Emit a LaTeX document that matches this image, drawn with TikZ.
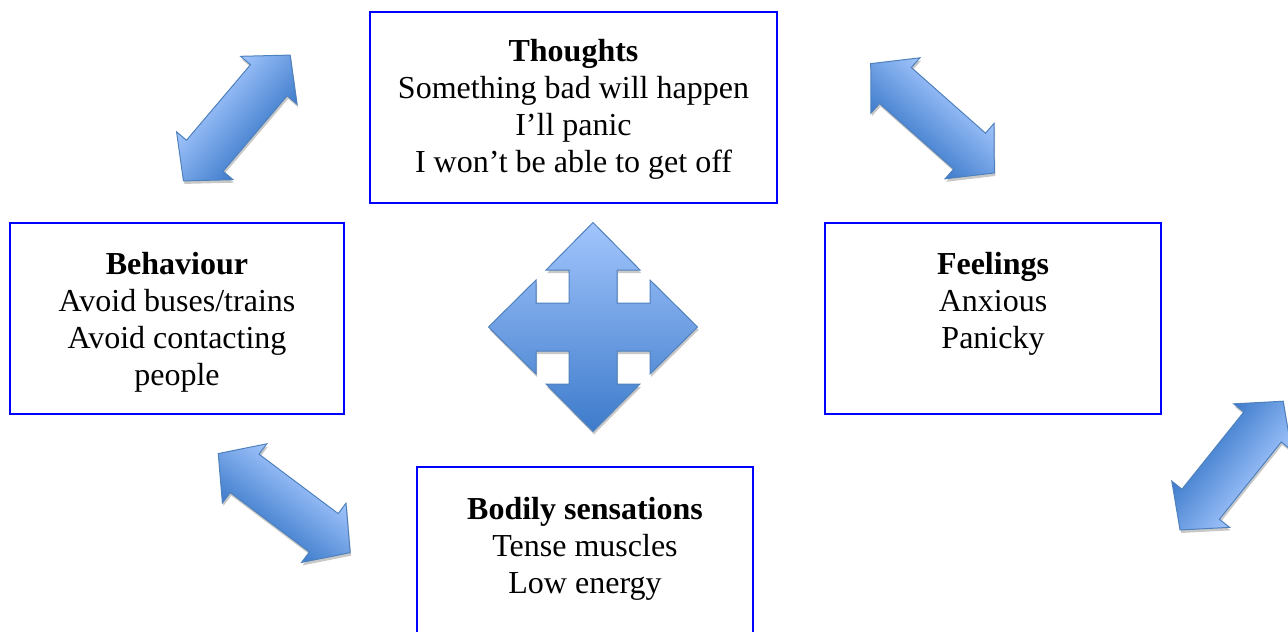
\documentclass[tikz,border=0pt]{standalone}
\usepackage{fontspec}
\setmainfont{Liberation Serif}
\usepackage{tikz}
\usetikzlibrary{positioning}
\definecolor{boxedge}{HTML}{0000FF}
\definecolor{arrowedge}{HTML}{4F81BD}
\definecolor{arrowlight}{HTML}{A2C5FC}
\definecolor{arrowdark}{HTML}{3D7BCB}
\definecolor{arrowshade}{HTML}{C8C8C8}

\begin{document}
\begin{tikzpicture}[
  x=0.5pt, y=-0.5pt,
  font=\fontsize{16}{18.5}\selectfont,
  infobox/.style={draw=boxedge, line width=1pt, inner sep=0pt,
    minimum height=95.5pt},
  infotext/.style={anchor=north, align=center, inner sep=0pt},
  arrbody/.style={draw=arrowedge, line width=0.5pt, line join=miter,
    top color=arrowlight, bottom color=arrowdark},
  arrshadow/.style={fill=arrowshade}
]
  \useasboundingbox (0,0) rectangle (1288,631);
  \clip (0,0) rectangle (1288,631);

  % the four boxes
  \node[infobox, minimum width=203.5pt] (thoughts) at (573.5,107.5) {};
  \node[infobox, minimum width=167pt] (behaviour) at (177,318.5) {};
  \node[infobox, minimum width=168pt] (feelings) at (993,318.5) {};
  \node[infobox, minimum width=168pt] (bodily) at (585,562.5) {};

  \node[infotext] (thoughtsTxt) at (573.5,39)
    {\textbf{Thoughts}\\Something bad will happen\\I’ll panic\\I won’t be able to get off};
  \node[infotext] (behaviourTxt) at (177,251.5)
    {\textbf{Behaviour}\\Avoid buses/trains\\Avoid contacting\\people};
  \node[infotext] (feelingsTxt) at (993,251.5)
    {\textbf{Feelings}\\Anxious\\Panicky};
  \node[infotext] (bodilyTxt) at (585,497)
    {\textbf{Bodily sensations}\\Tense muscles\\Low energy};

  % two-headed block arrows: centre x / centre y / turn
  \foreach \ax/\ay/\turn in {236.8/118/49.7, 932.5/118.3/-41.5,
                             284.2/503.1/-36.9, 1231.6/465.6/231.3}{
    \fill[arrshadow, transform canvas={shift={(\ax+1,\ay+3)}, rotate=\turn}]
      (-82.5,0) -- (-49.5,37) -- (-49.5,24) -- (49.5,24) -- (49.5,37)
      -- (82.5,0) -- (49.5,-37) -- (49.5,-24) -- (-49.5,-24) -- (-49.5,-37) -- cycle;
    \path[arrbody, transform canvas={shift={(\ax,\ay)}, rotate=\turn}]
      (-82.5,0) -- (-49.5,37) -- (-49.5,24) -- (49.5,24) -- (49.5,37)
      -- (82.5,0) -- (49.5,-37) -- (49.5,-24) -- (-49.5,-24) -- (-49.5,-37) -- cycle;
  }

  % four-way arrow in the middle
  \fill[arrshadow, shift={(594,330)}]
    (0,-104.5) -- (47,-57) -- (24,-57) -- (24,-24) -- (57,-24) -- (57,-47)
    -- (104.5,0) -- (57,47) -- (57,24) -- (24,24) -- (24,57) -- (47,57)
    -- (0,104.5) -- (-47,57) -- (-24,57) -- (-24,24) -- (-57,24) -- (-57,47)
    -- (-104.5,0) -- (-57,-47) -- (-57,-24) -- (-24,-24) -- (-24,-57) -- (-47,-57) -- cycle;
  \path[arrbody, shift={(593,327)}]
    (0,-104.5) -- (47,-57) -- (24,-57) -- (24,-24) -- (57,-24) -- (57,-47)
    -- (104.5,0) -- (57,47) -- (57,24) -- (24,24) -- (24,57) -- (47,57)
    -- (0,104.5) -- (-47,57) -- (-24,57) -- (-24,24) -- (-57,24) -- (-57,47)
    -- (-104.5,0) -- (-57,-47) -- (-57,-24) -- (-24,-24) -- (-24,-57) -- (-47,-57) -- cycle;
\end{tikzpicture}
\end{document}
